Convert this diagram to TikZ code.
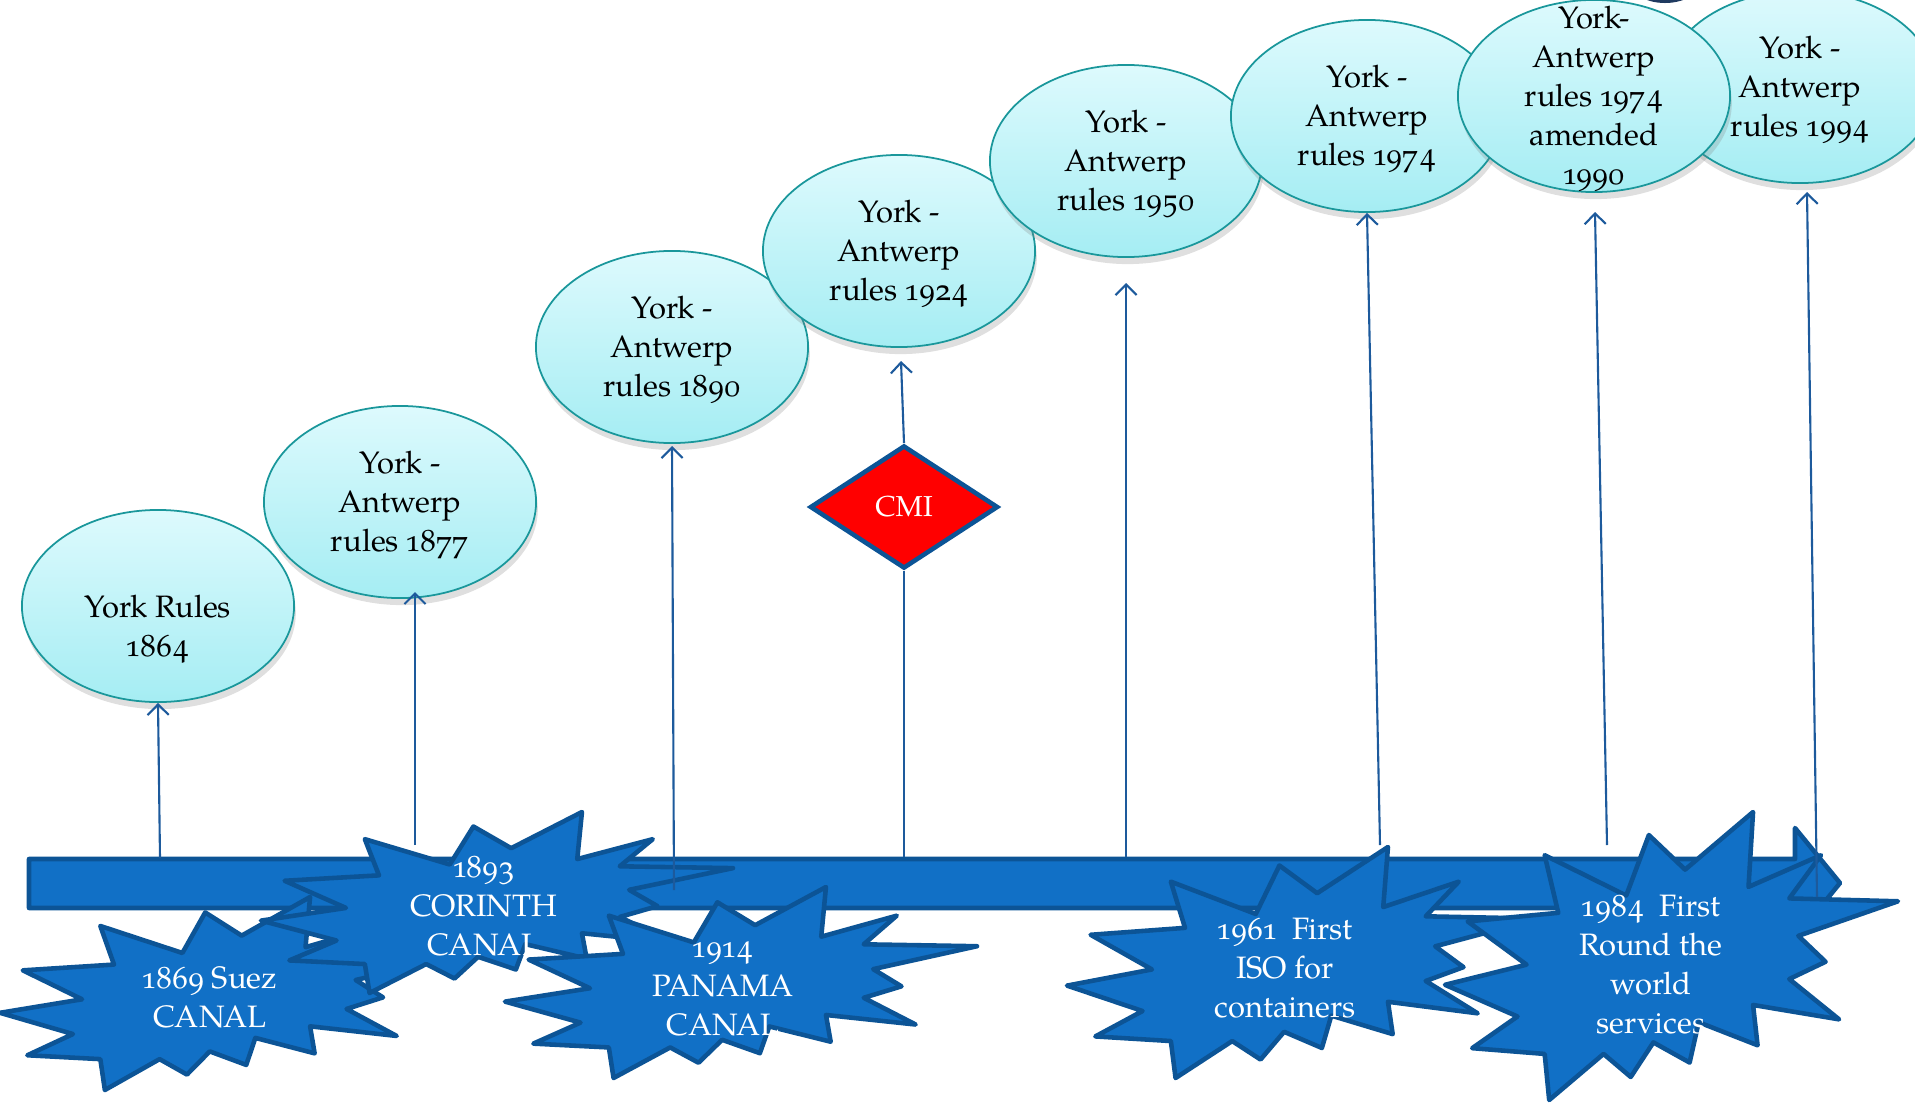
\documentclass[tikz,border=0pt]{standalone}
\usepackage{fontspec}
\setmainfont{TeX Gyre Pagella}[Numbers=OldStyle]
\usetikzlibrary{shapes.geometric,shadows,arrows.meta}

\definecolor{barblue}{HTML}{1170C6}
\definecolor{bardark}{HTML}{0C5496}
\definecolor{linkblue}{HTML}{1D5A9C}
\definecolor{rulestop}{HTML}{DDFAFD}
\definecolor{rulesbot}{HTML}{A5EDF3}
\definecolor{rulesline}{HTML}{1A979B}
\definecolor{navy}{HTML}{1F3A60}

\tikzset{
  rules/.style={ellipse, draw=rulesline, line width=0.5pt,
    top color=rulestop, bottom color=rulesbot,
    minimum width=2.72cm, minimum height=1.92cm, inner sep=0pt,
    drop shadow={shadow xshift=0.5pt, shadow yshift=-2pt, opacity=0.25}},
  caption/.style={align=center, text=black, yshift=-0.03cm,
    font=\fontsize{8.8}{11.1}\selectfont},
  event/.style={align=center, text=white, font=\fontsize{8.8}{11.1}\selectfont},
  burst/.style={fill=barblue, draw=bardark, line width=1.3pt, line join=round},
  link/.style={draw=linkblue, line width=0.6pt, -{Straight Barb[length=3pt,width=6pt]}},
  stem/.style={draw=linkblue, line width=0.6pt},
}

% explosion shape: left, top, width, height (pixels)
\newcommand{\burst}[4]{%
  \begin{scope}[shift={(#1,#2)}, xscale=#3/100, yscale=#4/100]
    \draw[burst] (22,15) -- (40,29) -- (45,8) -- (53,20) -- (68,0) -- (67,26)
      -- (83,15) -- (76,30) -- (100,31) -- (78,43) -- (84,52) -- (76,58)
      -- (87,72) -- (68,67) -- (69,81) -- (56,73) -- (54,87) -- (46,80)
      -- (41,92) -- (35,84) -- (23,100) -- (22,84) -- (6,82) -- (16,71)
      -- (0,60) -- (18,53) -- (5,38) -- (25,35) -- cycle;
  \end{scope}}

\begin{document}
\begin{tikzpicture}[x=0.01cm, y=-0.01cm]
  \useasboundingbox (0,0) rectangle (1915,1103);

  % Shape cut off at the top
  \fill[navy] (1665,-25) ellipse (0.40cm and 0.28cm);

  % Rules ellipses
  \node[rules, label={[caption, yshift=-0.2cm]center:York Rules\\1864}] (y1864) at (158,606) {};
  \node[rules, label={[caption]center:York -\\Antwerp\\rules 1877}] (y1877) at (400,502) {};
  \node[rules, label={[caption]center:York -\\Antwerp\\rules 1890}] (y1890) at (672,347) {};
  \node[rules, label={[caption]center:York -\\Antwerp\\rules 1924}] (y1924) at (899,251) {};
  \node[rules, label={[caption]center:York -\\Antwerp\\rules 1950}] (y1950) at (1126,161) {};
  \node[rules, label={[caption]center:York -\\Antwerp\\rules 1974}] (y1974) at (1367,116) {};
  \node[rules, label={[caption]center:York -\\Antwerp\\rules 1994}] (y1994) at (1800,87) {};
  \node[rules, label={[caption]center:York-\\Antwerp\\rules 1974\\amended\\1990}] (y1990) at (1594,96) {};

  % Time bar
  \draw[burst] (29,859) -- (1795,859) -- (1795,828) -- (1840,883) -- (1795,938)
    -- (1795,908) -- (29,908) -- cycle;

  % Events, back to front
  \burst{0}{897}{456}{193}
  \burst{261}{812}{472}{181}
  \burst{505}{887}{472}{191}
  \burst{1067}{847}{472}{231}
  \burst{1445}{812}{453}{288}

  \node[event] (suez) at (210,997) {1869 Suez\\CANAL};
  \node[event] (corinth) at (484,906) {1893\\CORINTH\\CANAL};
  \node[event] (panama) at (723,989) {1914\\PANAMA\\CANAL};
  \node[event] (iso) at (1285,968) {1961\ \ First\\ISO for\\containers};
  \node[event] (round) at (1651,965) {1984\ \ First\\Round the\\world\\services};

  % CMI
  \node[diamond, fill=red, draw=bardark, line width=1.3pt, minimum width=1.88cm,
    minimum height=1.23cm, inner sep=0pt, text=white,
    font=\fontsize{8.2}{10}\selectfont] (cmi) at (904,507) {CMI};

  % Links from the bar
  \coordinate (b1) at (160,858);
  \coordinate (b2) at (415,845);
  \coordinate (b3) at (674,890);
  \coordinate (b4) at (904,857);
  \coordinate (b5) at (1126,857);
  \coordinate (b6) at (1380,845);
  \coordinate (b7) at (1607,845);
  \coordinate (b8) at (1817,897);
  \coordinate (t2) at (415,592);
  \coordinate (t3) at (672,446);
  \coordinate (t4) at (901,361);
  \coordinate (t5) at (1126,283);
  \coordinate (t7) at (1595,212);
  \coordinate (t8) at (1807,192);

  \draw[link] (b1) -- (y1864.south);
  \draw[link] (b2) -- (t2);
  \draw[link] (b3) -- (t3);
  \draw[stem] (b4) -- (cmi.south);
  \draw[link] (cmi.north) -- (t4);
  \draw[link] (b5) -- (t5);
  \draw[link] (b6) -- (y1974.south);
  \draw[link] (b7) -- (t7);
  \draw[link] (b8) -- (t8);
\end{tikzpicture}
\end{document}
